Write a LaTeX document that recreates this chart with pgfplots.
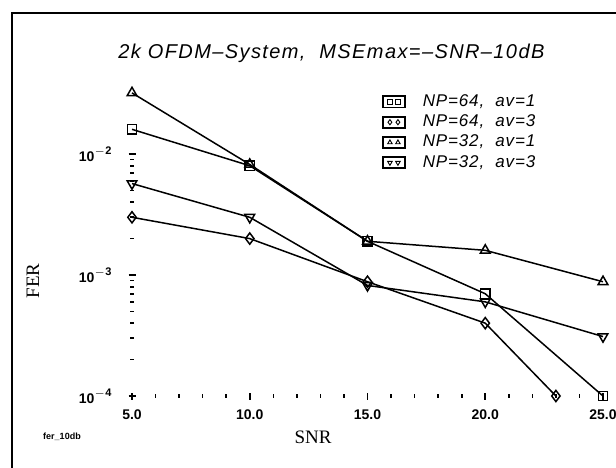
\documentclass[border=0pt]{standalone}
\usepackage{fontspec}
\setmainfont{Liberation Serif}
\setsansfont{Liberation Sans}
\usepackage{pgfplots}
\pgfplotsset{compat=1.18}
\begin{document}
\begin{tikzpicture}[x=0.5pt,y=0.5pt]
\useasboundingbox (0,0) rectangle (616,467);
% page frame
\draw[line width=1pt] (12,-5) -- (12,454) -- (625,454);
\begin{axis}[
  at={(66pt,35.5pt)}, anchor=south west,
  scale only axis, width=235.5pt, height=181.5pt,
  xmin=5, xmax=25, ymode=log, ymin=1e-4, ymax=1e-1,
  axis lines*=left, axis line style={draw=none},
  clip=false,
  xtick={5,10,15,20,25},
  xticklabels={5.0,10.0,15.0,20.0,25.0},
  minor x tick num=4,
  ytick={1e-4,1e-3,1e-2},
  yticklabels={10\raisebox{0.9ex}{\fontsize{5.5}{5}\selectfont$-$4},
               10\raisebox{0.9ex}{\fontsize{5.5}{5}\selectfont$-$3},
               10\raisebox{0.9ex}{\fontsize{5.5}{5}\selectfont$-$2}},
  tick label style={font=\fontsize{7}{8}\selectfont\sffamily\bfseries},
  xticklabel style={yshift=-1.5pt},
  yticklabel style={xshift=-5pt},
  tick align=center,
  major tick length=3.5pt, minor tick length=1.6pt,
  tick style={black, line width=0.8pt},
  every tick/.style={black, line width=0.8pt},
  legend style={at={(0.53,0.84)}, anchor=north west, draw=none, fill=none,
    font=\fontsize{8.5}{9}\selectfont\sffamily\itshape\addfontfeature{LetterSpace=5},
    row sep=-0.3pt, column sep=7pt, inner sep=0pt,
    nodes={inner sep=1.5pt}},
  legend cell align=left,
  legend image code/.code={
    \draw[black,line width=0.9pt] (0pt,-2.8pt) rectangle (11pt,2.8pt);
    \draw[#1, every mark/.append style={line width=0.45pt}]
      plot[only marks, mark size=1.3pt] coordinates {(3.5pt,0pt) (7.5pt,0pt)};
  },
]
\addplot[black, line width=0.75pt, mark=square, mark size=2.3pt,
  mark options={solid, fill=none}] coordinates
  {(5,0.016)(10,0.0080)(15,0.0019)(20,0.00070)(25,0.0001)};
\addlegendentry{NP=64,\ \ av=1}
\addplot[black, line width=0.75pt, mark=diamond, mark size=2.8pt,
  mark options={solid, fill=none}] coordinates
  {(5,0.0030)(10,0.0020)(15,0.00088)(20,0.00040)(23,0.0001)};
\addlegendentry{NP=64,\ \ av=3}
\addplot[black, line width=0.75pt, mark=triangle, mark size=2.8pt,
  mark options={solid, fill=none}] coordinates
  {(5,0.032)(10,0.0082)(15,0.0019)(20,0.0016)(25,0.00088)};
\addlegendentry{NP=32,\ \ av=1}
\addplot[black, line width=0.75pt, mark=triangle, mark size=2.8pt,
  mark options={solid, fill=none, rotate=180}] coordinates
  {(5,0.0057)(10,0.0030)(15,0.00082)(20,0.00060)(25,0.00031)};
\addlegendentry{NP=32,\ \ av=3}
\end{axis}
% title and labels
\node[font=\fontsize{10}{11}\selectfont\sffamily\itshape\addfontfeature{LetterSpace=7},
  anchor=west, inner sep=0pt] at (118,414)
  {2k OFDM--System,\ \ MSEmax=--SNR--10dB};
\node[font=\fontsize{9.5}{10}\selectfont] at (313,30) {SNR};
\node[font=\fontsize{9.5}{10}\selectfont, rotate=90] at (33,186) {FER};
\node[font=\fontsize{4.5}{5}\selectfont\sffamily\bfseries] at (62,30) {fer\_10db};
\end{tikzpicture}
\end{document}
